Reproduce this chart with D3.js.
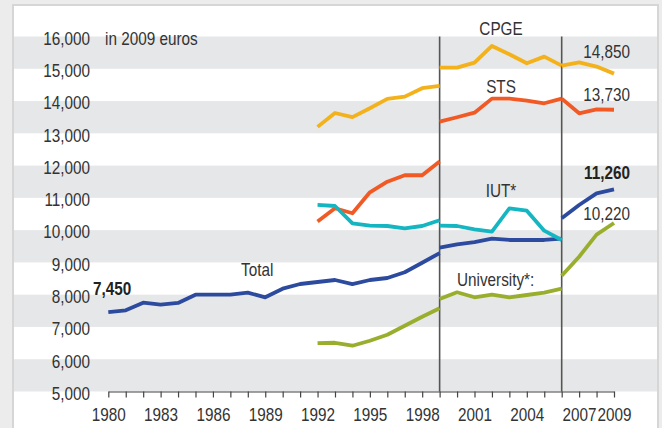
<!DOCTYPE html>
<html>
<head>
<meta charset="utf-8">
<script src="https://cdn.jsdelivr.net/npm/d3@7"></script>
<style>
  html, body { margin: 0; padding: 0; background: #ececec; }
  svg { display: block; }
  text { font-family: 'Liberation Sans', Arial, sans-serif; }
</style>
</head>
<body>
<svg id="chart" width="662" height="428"></svg>
<script>
// ---- data ----
const yearsA = d3.range(1980, 2000);          // 1980-1999
const yearsA92 = d3.range(1992, 2000);        // 1992-1999
const yearsB = d3.range(1999, 2007);          // 1999-2006
const yearsC = d3.range(2006, 2010);          // 2006-2009

const totalA = [7460, 7516, 7752, 7690, 7743, 8000, 8000, 8000, 8062, 7919, 8186, 8331, 8393, 8455, 8330, 8455, 8517, 8694, 8990, 9290];
const totalB = [9460, 9560, 9630, 9735, 9695, 9695, 9695, 9735];
const totalC = [10370, 10780, 11140, 11260];

const cpgeA = [13200, 13630, 13500, 13776, 14066, 14137, 14397, 14467];
const cpgeB = [15035, 15035, 15190, 15707, 15449, 15171, 15377, 15098];
const cpgeC = [15100, 15200, 15067, 14850];

const stsA = [10270, 10677, 10522, 11173, 11502, 11700, 11700, 12130];
const stsB = [13361, 13497, 13640, 14075, 14075, 14013, 13931, 14075];
const stsC = [14075, 13621, 13740, 13730];

const iutA = [10780, 10748, 10211, 10138, 10128, 10057, 10128, 10305];
const iutB = [10138, 10128, 10026, 9953, 10677, 10603, 9984, 9695];

const uniA = [6500, 6510, 6419, 6574, 6760, 7039, 7318, 7578];
const uniB = [7866, 8074, 7919, 8000, 7919, 7990, 8061, 8185];
const uniC = [8588, 9177, 9859, 10220];

const yTicks = [5000, 6000, 7000, 8000, 9000, 10000, 11000, 12000, 13000, 14000, 15000, 16000];
const xTickLabels = [1980, 1983, 1986, 1989, 1992, 1995, 1998, 2001, 2004, 2007, 2009];
const breakYears = [1999, 2006];

const colors = { total: '#2d4b9e', cpge: '#f3b21c', sts: '#f15a24', iut: '#15b6c1', uni: '#9aae2e' };

// ---- drawing ----
const svg = d3.select('#chart');
const W = 662, H = 428;
const SX = 0.85;   // horizontal condensing of the text face
const FONT = "'Liberation Sans', Arial, sans-serif";

// panel
svg.append('rect').attr('x', 0).attr('y', 0).attr('width', W).attr('height', H).attr('fill', '#ececec');
svg.append('rect').attr('x', 12).attr('y', 4).attr('width', 647).attr('height', H).attr('fill', '#d6d6d6');
svg.append('rect').attr('x', 14).attr('y', 6).attr('width', 643).attr('height', H).attr('fill', '#ffffff');

const x = d3.scaleLinear().domain([1980, 2009]).range([108.3, 614]);
const y = d3.scaleLinear().domain([5000, 16000]).range([391.5, 36.5]);

// bands
const bandStarts = yTicks.filter((d, i) => i % 2 === 0 && d < 16000);
svg.append('g').selectAll('rect').data(bandStarts).join('rect')
  .attr('x', 14).attr('width', 643)
  .attr('y', d => y(d + 1000)).attr('height', d => y(d) - y(d + 1000))
  .attr('fill', '#e6e7e8');

// y axis labels
const yAxis = d3.axisLeft(y).tickValues(yTicks).tickSize(0).tickPadding(0)
  .tickFormat(d3.format(','));
const gy = svg.append('g').attr('transform', 'translate(90,2)').call(yAxis);
gy.select('.domain').remove();
gy.selectAll('text').attr('font-size', 18).attr('fill', '#333').attr('x', 0)
  .attr('transform', `scale(${SX},1)`)
  .style('font-family', FONT);

// break lines
svg.append('g').selectAll('line').data(breakYears).join('line')
  .attr('x1', d => x(d)).attr('x2', d => x(d))
  .attr('y1', y(16000)).attr('y2', y(5000))
  .attr('stroke', '#555').attr('stroke-width', 1.6);

// x axis
const xAxis = d3.axisBottom(x).tickValues(d3.range(1980, 2010)).tickSize(6).tickSizeOuter(0)
  .tickFormat(d => xTickLabels.includes(d) ? String(d) : '');
const gx = svg.append('g').attr('transform', `translate(0,${y(5000)})`).call(xAxis);
gx.select('.domain').attr('stroke', '#444').attr('stroke-width', 1.2);
gx.selectAll('.tick line').attr('stroke', '#444').attr('stroke-width', 1.2);
gx.selectAll('text').attr('font-size', 18).attr('fill', '#333').attr('dy', 0).attr('y', 30)
  .attr('transform', `scale(${SX},1)`)
  .style('font-family', FONT);

// lines
const line = d3.line().x(d => x(d[0])).y(d => y(d[1]));
const segments = [
  [yearsA, totalA, colors.total], [yearsB, totalB, colors.total], [yearsC, totalC, colors.total],
  [yearsA92, cpgeA, colors.cpge], [yearsB, cpgeB, colors.cpge], [yearsC, cpgeC, colors.cpge],
  [yearsA92, stsA, colors.sts], [yearsB, stsB, colors.sts], [yearsC, stsC, colors.sts],
  [yearsA92, iutA, colors.iut], [yearsB, iutB, colors.iut],
  [yearsA92, uniA, colors.uni], [yearsB, uniB, colors.uni], [yearsC, uniC, colors.uni]
];
svg.append('g').selectAll('path').data(segments).join('path')
  .attr('d', s => line(s[0].map((yr, i) => [yr, s[1][i]])))
  .attr('fill', 'none').attr('stroke', s => s[2]).attr('stroke-width', 3.8)
  .attr('stroke-linejoin', 'round');

// labels
const labels = [
  { t: 'in 2009 euros', x: 105, y: 45, a: 'start' },
  { t: 'CPGE', x: 501, y: 35, a: 'middle' },
  { t: '14,850', x: 630, y: 58, a: 'end' },
  { t: 'STS', x: 501, y: 93, a: 'middle' },
  { t: '13,730', x: 630, y: 101, a: 'end' },
  { t: '11,260', x: 630, y: 179, a: 'end', b: true },
  { t: 'IUT*', x: 501, y: 197, a: 'middle' },
  { t: '10,220', x: 630, y: 220, a: 'end' },
  { t: 'University*:', x: 457, y: 286, a: 'start' },
  { t: 'Total', x: 241, y: 276, a: 'start' },
  { t: '7,450', x: 93, y: 295, a: 'start', b: true }
];
svg.append('g').selectAll('text').data(labels).join('text')
  .attr('transform', d => `translate(${d.x},${d.y}) scale(${SX},1)`)
  .attr('text-anchor', d => d.a)
  .attr('font-size', 18).attr('font-weight', d => d.b ? 'bold' : 'normal')
  .attr('fill', d => d.b ? '#222' : '#333')
  .style('font-family', FONT)
  .text(d => d.t);
</script>
</body>
</html>
